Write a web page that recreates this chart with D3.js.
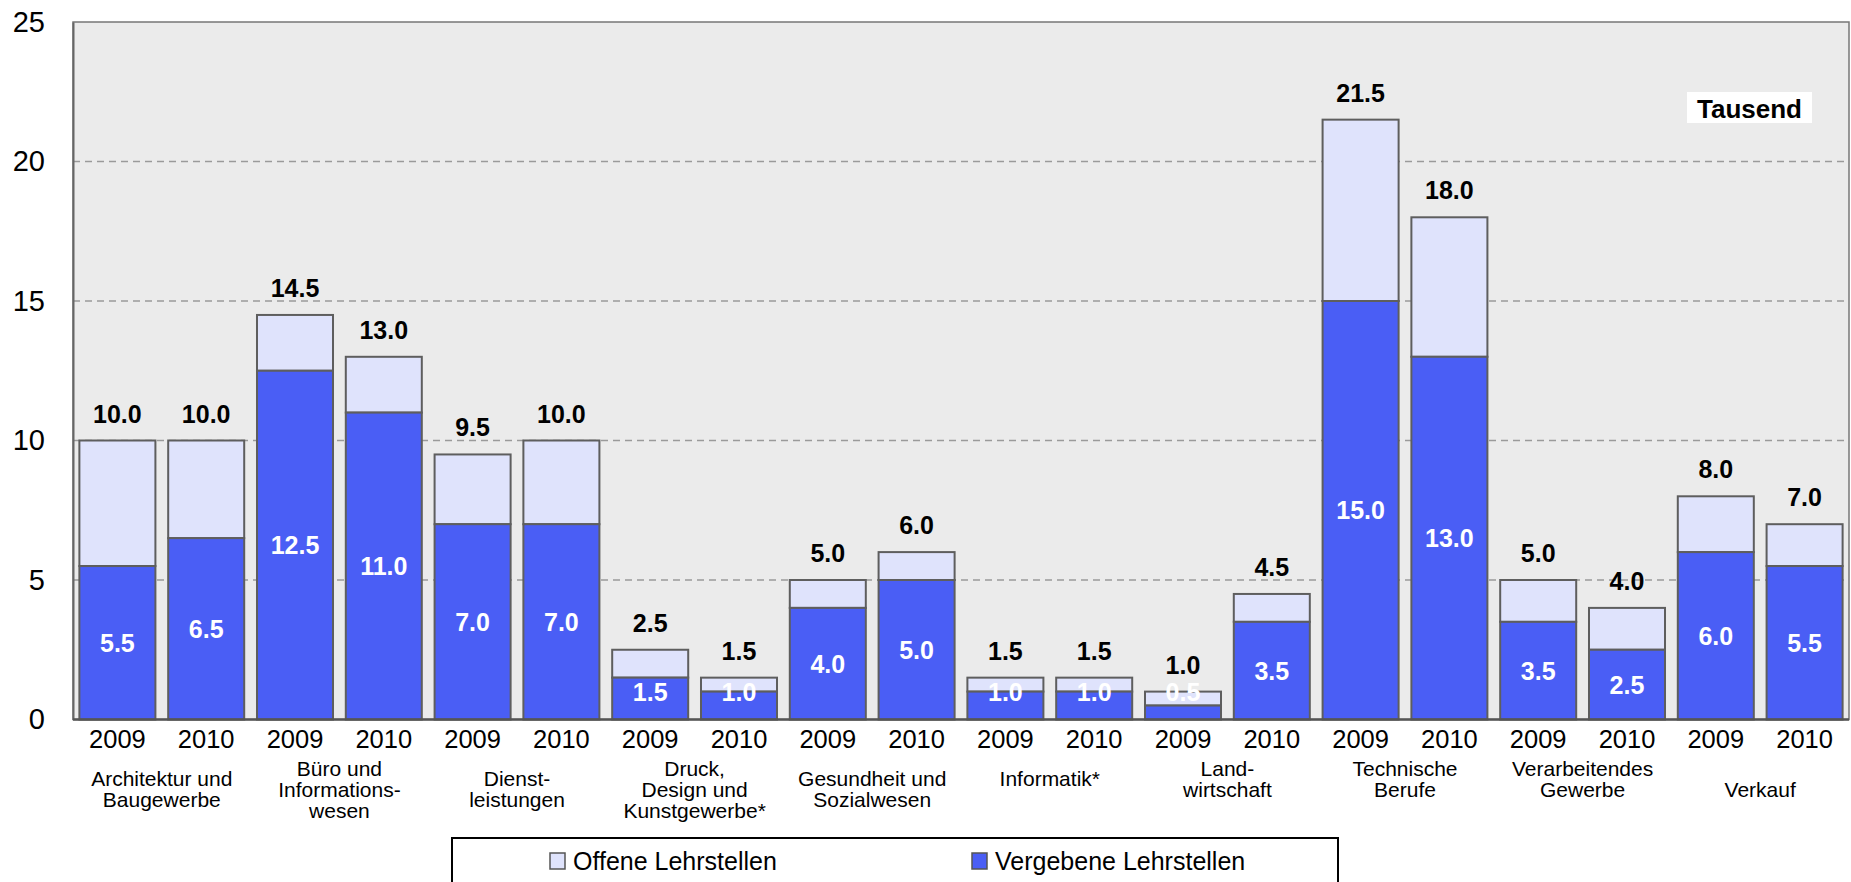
<!DOCTYPE html>
<html>
<head>
<meta charset="utf-8">
<script src="https://cdn.jsdelivr.net/npm/d3@7"></script>
<style>
  html, body { margin: 0; padding: 0; background: #fff; }
  svg { display: block; font-family: "Liberation Sans", Arial, sans-serif; }
</style>
</head>
<body>
<svg id="chart" width="1851" height="882"></svg>
<script>
// ---------------- data ----------------
const categories = [
  "Architektur und\nBaugewerbe",
  "Büro und\nInformations-\nwesen",
  "Dienst-\nleistungen",
  "Druck,\nDesign und\nKunstgewerbe*",
  "Gesundheit und\nSozialwesen",
  "Informatik*",
  "Land-\nwirtschaft",
  "Technische\nBerufe",
  "Verarbeitendes\nGewerbe",
  "Verkauf"
];
const years = ["2009", "2010"];
const vergeben2009 = [5.5, 12.5, 7.0, 1.5, 4.0, 1.0, 0.5, 15.0, 3.5, 6.0];
const vergeben2010 = [6.5, 11.0, 7.0, 1.0, 5.0, 1.0, 3.5, 13.0, 2.5, 5.5];
const offene2009   = [4.5, 2.0, 2.5, 1.0, 1.0, 0.5, 0.5, 6.5, 1.5, 2.0];
const offene2010   = [3.5, 2.0, 3.0, 0.5, 1.0, 0.5, 1.0, 5.0, 1.5, 1.5];
const yTicks = [0, 5, 10, 15, 20, 25];
const seriesNames = ["Offene Lehrstellen", "Vergebene Lehrstellen"];
const unitLabel = "Tausend";

// ---------------- layout ----------------
const W = 1851, H = 882;
const plot = { left: 73, right: 1849, top: 22, bottom: 719.5 };
const labelFirstRow = [0.5, 0, 0.5, 0, 0.5, 0.5, 0, 0, 0, 1];
const colors = { vergeben: "#4a5ef5", offene: "#dfe3fc", bg: "#ebebeb", stroke: "#5e5e5e" };

// flatten into bars
const bars = [];
categories.forEach((c, i) => {
  bars.push({ key: i + "-2009", cat: i, year: years[0], v: vergeben2009[i], o: offene2009[i] });
  bars.push({ key: i + "-2010", cat: i, year: years[1], v: vergeben2010[i], o: offene2010[i] });
});

const svg = d3.select("#chart");

const x = d3.scaleBand()
  .domain(bars.map(d => d.key))
  .range([plot.left, plot.right])
  .paddingInner(0.144)
  .paddingOuter(0.072);

const y = d3.scaleLinear().domain([0, 25]).range([plot.bottom, plot.top]);

// plot background
svg.append("rect")
  .attr("x", plot.left).attr("y", plot.top)
  .attr("width", plot.right - plot.left).attr("height", plot.bottom - plot.top)
  .attr("fill", colors.bg).attr("stroke", "#777").attr("stroke-width", 1.5);

// gridlines
svg.append("g").selectAll("line")
  .data(yTicks.filter(t => t > 0 && t < 25))
  .join("line")
  .attr("x1", plot.left).attr("x2", plot.right)
  .attr("y1", d => y(d)).attr("y2", d => y(d))
  .attr("stroke", "#9a9a9a").attr("stroke-width", 1.5)
  .attr("stroke-dasharray", "7,5");

// y axis
const yAxis = d3.axisLeft(y).tickValues(yTicks).tickSize(0).tickPadding(28).tickFormat(d3.format("d"));
const gy = svg.append("g").attr("transform", `translate(${plot.left},0)`).call(yAxis);
gy.select(".domain").attr("stroke", "#666").attr("stroke-width", 2);
gy.selectAll("text")
  .attr("font-size", 29).attr("fill", "#000")
  .attr("font-family", "'Liberation Sans', Arial, sans-serif");

// stacked bars
const bw = x.bandwidth();
const gBars = svg.append("g");
gBars.selectAll("rect.off")
  .data(bars).join("rect").attr("class", "off")
  .attr("x", d => x(d.key)).attr("width", bw)
  .attr("y", d => y(d.v + d.o)).attr("height", d => y(d.v) - y(d.v + d.o))
  .attr("fill", colors.offene).attr("stroke", colors.stroke).attr("stroke-width", 2);
gBars.selectAll("rect.verg")
  .data(bars).join("rect").attr("class", "verg")
  .attr("x", d => x(d.key)).attr("width", bw)
  .attr("y", d => y(d.v)).attr("height", d => y(0) - y(d.v))
  .attr("fill", colors.vergeben).attr("stroke", colors.stroke).attr("stroke-width", 2);

// x baseline
svg.append("line")
  .attr("x1", plot.left).attr("x2", plot.right)
  .attr("y1", y(0)).attr("y2", y(0))
  .attr("stroke", "#555").attr("stroke-width", 2.5);

// inner labels (white)
svg.append("g").selectAll("text")
  .data(bars).join("text")
  .attr("x", d => x(d.key) + bw / 2)
  .attr("y", d => Math.min(y(d.v / 2), y(0) - 28))
  .attr("dy", "0.36em")
  .attr("text-anchor", "middle")
  .attr("font-size", 25).attr("font-weight", "bold").attr("fill", "#fff")
  .text(d => d.v.toFixed(1));

// total labels (black)
svg.append("g").selectAll("text")
  .data(bars).join("text")
  .attr("x", d => x(d.key) + bw / 2)
  .attr("y", d => y(d.v + d.o) - 27)
  .attr("dy", "0.36em")
  .attr("text-anchor", "middle")
  .attr("font-size", 25).attr("font-weight", "bold").attr("fill", "#000")
  .text(d => (d.v + d.o).toFixed(1));

// year labels
svg.append("g").selectAll("text")
  .data(bars).join("text")
  .attr("x", d => x(d.key) + bw / 2)
  .attr("y", 739)
  .attr("dy", "0.36em")
  .attr("text-anchor", "middle")
  .attr("font-size", 25.5).attr("fill", "#000")
  .text(d => d.year);

// category labels
const gCat = svg.append("g");
categories.forEach((c, i) => {
  const cx = (x(i + "-2009") + x(i + "-2010") + bw) / 2;
  const lines = c.split("\n");
  const t = gCat.append("text")
    .attr("text-anchor", "middle")
    .attr("font-size", 21).attr("fill", "#000");
  lines.forEach((ln, k) => {
    t.append("tspan")
      .attr("x", cx)
      .attr("y", 768 + (labelFirstRow[i] + k) * 21)
      .attr("dy", "0.36em")
      .text(ln);
  });
});

// unit label
svg.append("rect").attr("x", 1687).attr("y", 92).attr("width", 125).attr("height", 31).attr("fill", "#fff");
svg.append("text")
  .attr("x", 1749.5).attr("y", 108.5).attr("dy", "0.36em")
  .attr("text-anchor", "middle")
  .attr("font-size", 26).attr("font-weight", "bold").attr("fill", "#000")
  .text(unitLabel);

// legend
const lg = svg.append("g");
lg.append("rect")
  .attr("x", 452).attr("y", 838).attr("width", 886).attr("height", 70)
  .attr("fill", "#fff").attr("stroke", "#000").attr("stroke-width", 2);
const legendItems = [
  { name: seriesNames[0], fill: colors.offene, sx: 550, tx: 573 },
  { name: seriesNames[1], fill: colors.vergeben, sx: 972, tx: 995 }
];
legendItems.forEach(it => {
  lg.append("rect").attr("x", it.sx).attr("y", 853).attr("width", 15).attr("height", 16)
    .attr("fill", it.fill).attr("stroke", "#555").attr("stroke-width", 1.5);
  lg.append("text").attr("x", it.tx).attr("y", 861).attr("dy", "0.36em")
    .attr("font-size", 25).attr("fill", "#000").text(it.name);
});
</script>
</body>
</html>
